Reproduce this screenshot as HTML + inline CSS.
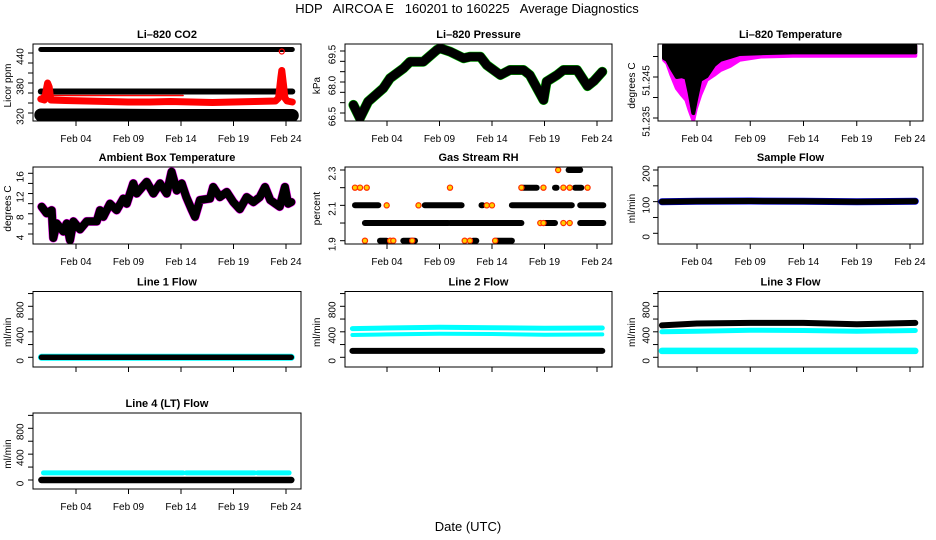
<!DOCTYPE html>
<html><head><meta charset="utf-8"><style>
html,body{margin:0;padding:0;background:#fff;}
svg{display:block;font-family:"Liberation Sans",sans-serif;}
</style></head><body>
<svg id="chart" width="936" height="540" viewBox="0 0 936 540">
<rect width="936" height="540" fill="#fff"/>
<text x="467" y="13" text-anchor="middle" font-size="13" style="white-space:pre" xml:space="preserve">HDP   AIRCOA E   160201 to 160225   Average Diagnostics</text>
<text x="468" y="531" text-anchor="middle" font-size="13">Date (UTC)</text>
</svg>
<script>
// x values are days after Feb 01 (Feb 04 = 3)
const xTickDays = [3, 8, 13, 18, 23];
const xTickLabels = ["Feb 04", "Feb 09", "Feb 14", "Feb 19", "Feb 24"];

// CO2
const co2BandDays = [-0.35, 5, 11, 17, 23.6];
const co2TopBlack = [447, 447, 447, 447, 447];
const co2MidBlack = [363, 363, 363, 363, 363];
const co2LowBlack = [316, 316, 315, 315, 315];
const co2RedDays = [-0.35, 0.0, 0.2, 0.3, 0.45, 0.6, 2, 4, 6, 8, 10, 12, 14, 16, 18, 20, 22, 22.3, 22.5, 22.6, 22.75, 22.9, 23.1, 23.6];
const co2RedVals = [348, 346, 370, 380, 372, 346, 345, 344, 343, 342, 342, 343, 342, 341, 342, 343, 344, 350, 390, 405, 378, 350, 344, 342];
const co2RedThinDays = [-0.3, 13.2];
const co2RedThinVals = [355, 355];
const co2RedOutDays = [22.6];
const co2RedOutVals = [443];

// Pressure
const presDays = [-0.2, 0.42, 1.2, 2.65, 3.29, 4.56, 5.2, 6.46, 7.74, 8.06, 9.0, 10.3, 10.9, 11.9, 12.5, 13.8, 14.7, 16.0, 16.6, 17.9, 18.2, 19.2, 19.8, 21.1, 22.1, 22.7, 23.5];
const presVals = [66.89, 66.25, 67.05, 67.7, 68.18, 68.66, 68.98, 68.98, 69.55, 69.63, 69.47, 69.15, 69.22, 69.22, 68.82, 68.34, 68.58, 68.58, 68.34, 67.13, 68.02, 68.34, 68.58, 68.58, 67.8, 68.05, 68.5];

// Li-820 temperature
const tempTop = 51.2526;
const tempDays = [-0.1, 0.2, 0.6, 1.1, 1.6, 2.0, 2.3, 2.65, 2.9, 3.3, 3.9, 4.6, 5.2, 6.1, 7, 9, 12, 15, 18, 21, 23.5];
const tempBlackLow = [51.2496, 51.2492, 51.2472, 51.2450, 51.2452, 51.2448, 51.2413, 51.2362, 51.2394, 51.2443, 51.2452, 51.2479, 51.2492, 51.2499, 51.2506, 51.2508, 51.2510, 51.2510, 51.2510, 51.2510, 51.2510];
const tempMagLow = [51.2492, 51.2484, 51.2455, 51.2423, 51.2406, 51.2394, 51.2370, 51.2345, 51.2374, 51.2406, 51.2443, 51.2455, 51.2467, 51.2477, 51.2492, 51.2500, 51.2502, 51.2502, 51.2502, 51.2502, 51.2502];

// Ambient box temperature
const ambDays = [-0.27, 0.2, 0.69, 0.84, 1.16, 1.79, 2.11, 2.43, 2.75, 3.38, 4.02, 4.97, 5.29, 5.6, 6.24, 6.87, 7.5, 7.83, 8.46, 8.78, 9.73, 10.37, 11.0, 11.64, 12.1, 12.6, 13.07, 13.5, 14.0, 14.33, 14.8, 15.76, 16.07, 16.7, 17.35, 17.98, 18.6, 19.26, 19.9, 20.5, 21.0, 21.5, 22.4, 22.9, 23.2, 23.5];
const ambVals = [9.4, 8.1, 8.7, 3.2, 6.1, 4.5, 6.1, 2.8, 6.5, 4.9, 6.5, 6.5, 8.7, 7.4, 10.0, 8.7, 11.0, 10.0, 14.0, 12.0, 14.3, 12.0, 14.0, 12.0, 16.3, 12.6, 14.0, 11.3, 8.9, 7.4, 10.7, 11.0, 13.3, 11.3, 12.3, 10.3, 8.9, 11.3, 10.3, 11.3, 13.3, 10.7, 9.4, 13.3, 10.0, 10.3];

// Gas stream RH
const rhRunLevel = [2.1, 2.0, 1.9, 1.9, 2.1, 2.0, 1.9, 2.1, 1.9, 2.1, 2.2, 2.0, 2.3, 2.2, 2.1, 2.0, 2.2];
const rhRunStart = [-0.05, 0.9, 2.33, 4.55, 6.6, 9.0, 11.2, 12.0, 13.45, 14.9, 15.8, 18.0, 20.3, 20.9, 21.4, 21.4, 19.0];
const rhRunEnd = [2.17, 8.84, 2.97, 5.67, 10.1, 15.8, 11.5, 12.1, 14.9, 20.6, 17.26, 19.0, 21.4, 21.5, 23.6, 23.6, 19.15];
const rhPtDays = [-0.05, 0.43, 1.07, 0.9, 2.97, 3.3, 3.6, 5.4, 6.0, 9.0, 10.4, 10.9, 12.5, 13.0, 13.3, 15.8, 17.9, 17.6, 17.9, 19.3, 19.8, 20.4, 19.8, 20.4, 22.1];
const rhPtLevels = [2.2, 2.2, 2.2, 1.9, 2.1, 1.9, 1.9, 1.9, 2.1, 2.2, 1.9, 1.9, 2.1, 2.1, 1.9, 2.2, 2.2, 2.0, 2.0, 2.3, 2.2, 2.2, 2.0, 2.0, 2.2];

// Flows
const flowDays = [-0.3, 3, 8, 13, 18, 23.5];
const sampleVals = [100, 101, 102, 101, 100, 101];
const line1Black = [0, 0, 0, 0, 0, 0];
const line2Black = [100, 100, 100, 100, 100, 100];
const line2CyanHi = [450, 460, 470, 465, 455, 460];
const line2CyanLo = [350, 360, 370, 365, 355, 360];
const line2CyanThin = [125, 125, 125, 125, 125, 125];
const line3Black = [500, 530, 540, 540, 520, 540];
const line3CyanHi = [400, 410, 425, 420, 410, 420];
const line3CyanLo = [100, 100, 100, 100, 100, 100];
const line4Black = [0, 0, 0, 0, 0, 0];
const line4CyanDays = [-0.1, 13.2, null, 13.5, 20.0, null, 20.3, 23.3];
const line4CyanVals = [110, 110, null, 110, 110, null, 110, 110];

const NS = "http://www.w3.org/2000/svg";
const svg = document.getElementById("chart");
const COLS = [
  {x0:33, x1:301, t0:76, t1:286, lab:20, tit:8},
  {x0:345, x1:612, t0:387, t1:597, lab:332, tit:317},
  {x0:658, x1:923, t0:697, t1:910, lab:646, tit:632}
];
const ROWS = [{y0:44,y1:121},{y0:167,y1:244},{y0:291.5,y1:367},{y0:413,y1:489}];

function mk(tag, attrs, parent) {
  const e = document.createElementNS(NS, tag);
  for (const k in attrs) e.setAttribute(k, attrs[k]);
  (parent || svg).appendChild(e);
  return e;
}

function makePanel(def) {
  const c = COLS[def.col], r = ROWS[def.row];
  const g = mk("g", {});
  
  
  const xs = d => c.t0 + (d - 3) * (c.t1 - c.t0) / 20;
  const ys = v => def.p1 + (v - def.v1) * (def.p2 - def.p1) / (def.v2 - def.v1);
  const cid = "clip-" + def.name;
  const cp = mk("clipPath", {id: cid}, g);
  mk("rect", {x: c.x0, y: r.y0, width: c.x1 - c.x0, height: r.y1 - r.y0}, cp);
  const dg = mk("g", {"clip-path": "url(#" + cid + ")"}, g);
  
  
  const box = mk("rect", {x: c.x0, y: r.y0, width: c.x1 - c.x0, height: r.y1 - r.y0, fill: "none", stroke: "#000", "stroke-width": 1}, g);
  
  
  const t = mk("text", {x: (c.x0 + c.x1) / 2, y: r.y0 - 6, "text-anchor": "middle", "font-size": 11, "font-weight": "bold"}, g);
  t.textContent = def.title;
  
  
  const yt = mk("text", {x: c.tit, y: (r.y0 + r.y1) / 2, "text-anchor": "middle", "font-size": 10, transform: "rotate(-90 " + (c.tit + 3) + " " + ((r.y0 + r.y1) / 2) + ")"}, g);
  yt.textContent = def.ylab;
  
  
  def.ticks.forEach(v => {
    const y = ys(v);
    const tk = mk("line", {x1: c.x0, x2: c.x0 - 5, y1: y, y2: y, stroke: "#000"}, g);
    
    
  });
  def.labels.forEach((v, i) => {
    const y = ys(v);
    const tl = mk("text", {x: c.lab, y: y, "text-anchor": "middle", "font-size": 10, transform: "rotate(-90 " + (c.lab + 3.5) + " " + y + ")"}, g);
    tl.textContent = def.labelText[i];
    
    
  });
  xTickDays.forEach((d, i) => {
    const x = xs(d);
    const tk = mk("line", {x1: x, x2: x, y1: r.y1, y2: r.y1 + 5, stroke: "#000"}, g);
    
    
    if (def.xlabels) {
      const tl = mk("text", {x: x, y: r.y1 + 21, "text-anchor": "middle", "font-size": 10}, g);
      tl.textContent = xTickLabels[i];
      
      
    }
  });
  return {g: dg, xs, ys};
}

function poly(p, days, vals, color, w, name) {
  let segs = [], cur = [];
  days.forEach((d, i) => {
    if (d === null || vals[i] === null) { if (cur.length) segs.push(cur); cur = []; }
    else cur.push(p.xs(d).toFixed(1) + "," + p.ys(vals[i]).toFixed(1));
  });
  if (cur.length) segs.push(cur);
  segs.forEach(s => {
    const e = mk("polyline", {points: s.join(" "), fill: "none", stroke: color, "stroke-width": w, "stroke-linejoin": "round", "stroke-linecap": "round"}, p.g);
    
    
  });
}
function pts(p, days, vals, fill, stroke, rad, name) {
  days.forEach((d, i) => {
    const e = mk("circle", {cx: p.xs(d), cy: p.ys(vals[i]), r: rad, fill: fill, stroke: stroke, "stroke-width": 1.2}, p.g);
    
    
  });
}
function area(p, days, top, lows, color, name) {
  const a = days.map(d => p.xs(d).toFixed(1) + "," + p.ys(top).toFixed(1));
  const b = days.map((d, i) => p.xs(d).toFixed(1) + "," + p.ys(lows[i]).toFixed(1)).reverse();
  const e = mk("polygon", {points: a.concat(b).join(" "), fill: color, stroke: color, "stroke-width": 4, "stroke-linejoin": "round"}, p.g);
  
  
}

const flowTicks = [0, 200, 400, 600, 800, 1000];

let p = makePanel({name: "co2-panel", col: 0, row: 0, title: "Li\u2013820 CO2", ylab: "Licor ppm", v1: 320, p1: 113, v2: 440, p2: 53, ticks: [320, 340, 360, 380, 400, 420, 440], labels: [320, 380, 440], labelText: ["320", "380", "440"], xlabels: true});
poly(p, co2BandDays, co2TopBlack, "#000", 5, "co2-black-upper");
poly(p, co2BandDays, co2MidBlack, "#000", 6, "co2-black-middle");
poly(p, co2BandDays, co2LowBlack, "#000", 13, "co2-black-lower");
poly(p, co2RedThinDays, co2RedThinVals, "#f00", 1.5, "co2-red-thin");
poly(p, co2RedDays, co2RedVals, "#f00", 7, "co2-red-series");
pts(p, co2RedOutDays, co2RedOutVals, "none", "#f00", 2.5, "co2-red-outlier");

p = makePanel({name: "pressure-panel", col: 1, row: 0, title: "Li\u2013820 Pressure", ylab: "kPa", v1: 66.5, p1: 113, v2: 69.5, p2: 51, ticks: [66.5, 67, 67.5, 68, 68.5, 69, 69.5], labels: [66.5, 68, 69.5], labelText: ["66.5", "68.0", "69.5"], xlabels: true});
poly(p, presDays, presVals, "#0c0", 10, "pressure-green-series");
poly(p, presDays, presVals, "#000", 9, "pressure-black-series");

p = makePanel({name: "licor-temp-panel", col: 2, row: 0, title: "Li\u2013820 Temperature", ylab: "degrees C", v1: 51.235, p1: 118, v2: 51.245, p2: 77, ticks: [51.235, 51.24, 51.245, 51.25], labels: [51.235, 51.245], labelText: ["51.235", "51.245"], xlabels: true});
area(p, tempDays, tempTop, tempMagLow, "#f0f", "licor-temp-magenta");
area(p, tempDays, tempTop, tempBlackLow, "#000", "licor-temp-black");

p = makePanel({name: "ambient-temp-panel", col: 0, row: 1, title: "Ambient Box Temperature", ylab: "degrees C", v1: 4, p1: 234, v2: 16, p2: 173.3, ticks: [4, 6, 8, 10, 12, 14, 16], labels: [4, 8, 12, 16], labelText: ["4", "8", "12", "16"], xlabels: true});
poly(p, ambDays, ambVals, "#f0f", 9, "ambient-magenta-series");
poly(p, ambDays, ambVals, "#000", 8, "ambient-black-series");

p = makePanel({name: "rh-panel", col: 1, row: 1, title: "Gas Stream RH", ylab: "percent", v1: 1.9, p1: 240.7, v2: 2.3, p2: 170, ticks: [1.9, 2.0, 2.1, 2.2, 2.3], labels: [1.9, 2.1, 2.3], labelText: ["1.9", "2.1", "2.3"], xlabels: true});
rhRunLevel.forEach((lv, i) => {
  poly(p, [rhRunStart[i], rhRunEnd[i]], [lv, lv], "#000", 6, "rh-run");
});
pts(p, rhPtDays, rhPtLevels, "#ffd000", "#ff3000", 2.6, "rh-point");

p = makePanel({name: "sample-flow-panel", col: 2, row: 1, title: "Sample Flow", ylab: "ml/min", v1: 0, p1: 233.3, v2: 200, p2: 170, ticks: [0, 50, 100, 150, 200], labels: [0, 100, 200], labelText: ["0", "100", "200"], xlabels: true});
poly(p, flowDays, sampleVals, "#00f", 7, "sample-flow-blue");
poly(p, flowDays, sampleVals, "#000", 6, "sample-flow-black");

p = makePanel({name: "line1-flow-panel", col: 0, row: 2, title: "Line 1 Flow", ylab: "ml/min", v1: 0, p1: 357.3, v2: 800, p2: 306.3, ticks: flowTicks, labels: [0, 400, 800], labelText: ["0", "400", "800"], xlabels: false});
poly(p, flowDays, line1Black, "#0ff", 7, "line1-cyan");
poly(p, flowDays, line1Black, "#000", 5.5, "line1-black");

p = makePanel({name: "line2-flow-panel", col: 1, row: 2, title: "Line 2 Flow", ylab: "ml/min", v1: 0, p1: 357.3, v2: 800, p2: 306.3, ticks: flowTicks, labels: [0, 400, 800], labelText: ["0", "400", "800"], xlabels: false});
poly(p, flowDays, line2CyanHi, "#0ff", 5, "line2-cyan-high");
poly(p, flowDays, line2CyanLo, "#0ff", 4, "line2-cyan-low");
poly(p, flowDays, line2CyanThin, "#0ff", 2, "line2-cyan-thin");
poly(p, flowDays, line2Black, "#000", 6, "line2-black");

p = makePanel({name: "line3-flow-panel", col: 2, row: 2, title: "Line 3 Flow", ylab: "ml/min", v1: 0, p1: 357.3, v2: 800, p2: 306.3, ticks: flowTicks, labels: [0, 400, 800], labelText: ["0", "400", "800"], xlabels: false});
poly(p, flowDays, line3CyanHi, "#0ff", 5, "line3-cyan-high");
poly(p, flowDays, line3CyanLo, "#0ff", 6.5, "line3-cyan-low");
poly(p, flowDays, line3Black, "#000", 6, "line3-black");

p = makePanel({name: "line4-flow-panel", col: 0, row: 3, title: "Line 4 (LT) Flow", ylab: "ml/min", v1: 0, p1: 480, v2: 800, p2: 428.3, ticks: flowTicks, labels: [0, 400, 800], labelText: ["0", "400", "800"], xlabels: true});
poly(p, line4CyanDays, line4CyanVals, "#0ff", 5, "line4-cyan");
poly(p, flowDays, line4Black, "#000", 6.5, "line4-black");
</script>
</body></html>
